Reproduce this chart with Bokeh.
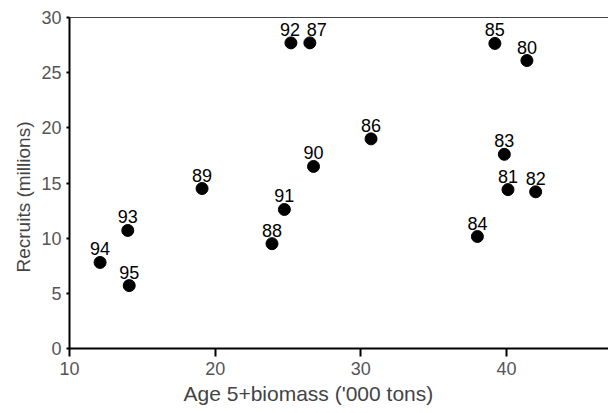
from bokeh.plotting import figure
from bokeh.models import ColumnDataSource, Range1d, FixedTicker, LinearAxis, Title
from bokeh.embed import file_html
from bokeh.resources import INLINE
from bokeh.core.properties import value

years = ["80", "81", "82", "83", "84", "85", "86", "87", "88", "89", "90", "91", "92", "93", "94", "95"]
biomass = [41.4, 40.1, 42.0, 39.85, 38.0, 39.2, 30.7, 26.5, 23.9, 19.1, 26.75, 24.75, 25.2, 14.0, 12.1, 14.1]
recruits = [26.1, 14.4, 14.2, 17.6, 10.15, 27.65, 19.0, 27.7, 9.5, 14.5, 16.5, 12.6, 27.7, 10.7, 7.8, 5.7]
x_ticks = [10, 20, 30, 40]
y_ticks = [0, 5, 10, 15, 20, 25, 30]

# small label nudges (pixels) so crowded labels don't collide
label_dx = [7 if t == "87" else (-1 if t == "92" else 0) for t in years]

src = ColumnDataSource(dict(x=biomass, y=recruits, t=years, dx=label_dx))

p = figure(width=608, height=413, output_backend="svg", toolbar_location=None,
           x_range=Range1d(10, 47.0), y_range=Range1d(0, 30),
           min_border_left=69, min_border_right=0, min_border_top=17, min_border_bottom=65)
p.outline_line_color = None
p.grid.visible = False
p.background_fill_color = "white"

for ax in (p.xaxis[0], p.yaxis[0]):
    ax.axis_line_width = 2
    ax.axis_line_color = "black"
    ax.major_tick_line_color = "black"
    ax.major_tick_line_width = 2
    ax.major_tick_in = 0
    ax.minor_tick_line_color = None
    ax.major_label_text_font = "Liberation Sans"
    ax.major_label_text_font_size = "18px"
    ax.major_label_text_color = "#555555"

p.xaxis[0].major_tick_out = 8
p.yaxis[0].major_tick_out = 3
p.xaxis[0].ticker = FixedTicker(ticks=x_ticks)
p.yaxis[0].ticker = FixedTicker(ticks=y_ticks)
p.xaxis[0].major_label_standoff = 5
p.yaxis[0].major_label_standoff = 5

top = LinearAxis(ticker=FixedTicker(ticks=[]), major_label_text_font_size="0px",
                 axis_line_color="#444444", axis_line_width=1,
                 major_tick_line_color=None, minor_tick_line_color=None)
p.add_layout(top, "above")

p.scatter("x", "y", source=src, size=12, color="black")
p.text("x", "y", text="t", source=src, x_offset="dx", text_align="center", text_baseline="bottom",
       y_offset=-7, text_font=value("Liberation Sans"), text_font_size="18px", text_color="black")

xt = Title(text="Age 5+biomass ('000 tons)", align="left", offset=114,
           text_font="Liberation Sans", text_font_size="21px", text_font_style="normal",
           text_color="#444444", standoff=5)
p.add_layout(xt, "below")

yt = Title(text="Recruits (millions)", align="left", offset=76,
           text_font="Liberation Sans", text_font_size="19px", text_font_style="normal",
           text_color="#444444", standoff=9)
p.add_layout(yt, "left")

open("out.html", "w").write(file_html(p, INLINE))
